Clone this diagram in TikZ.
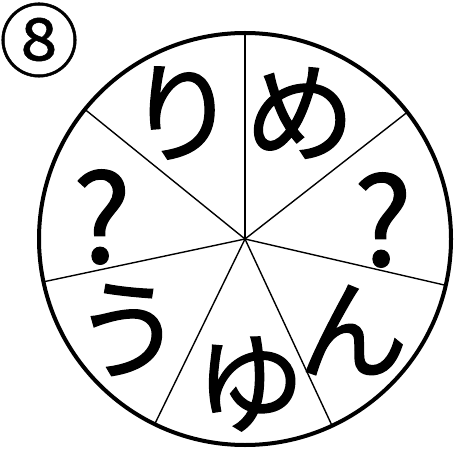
\documentclass[tikz,border=0pt]{standalone}
\usepackage{fontspec}
\newfontfamily\jpfont[FakeBold=1.2]{Noto Sans CJK JP}
\newfontfamily\numfont[FakeBold=0.6]{Noto Sans CJK JP}
\usetikzlibrary{shapes.geometric}

\begin{document}
\begin{tikzpicture}[x=1pt, y=1pt,
    wheel/.style={circle, draw, line width=4pt, outer sep=0pt,
      minimum size=412pt, inner sep=0pt},
    spoke/.style={line width=1.4pt},
    kana/.style={font=\jpfont\fontsize{110}{110}\selectfont, inner sep=0pt},
    quest/.style={font=\jpfont\fontsize{122}{122}\selectfont, inner sep=0pt},
    badge/.style={font=\numfont\fontsize{80}{80}\selectfont, inner sep=0pt}
]
\useasboundingbox (0,0) rectangle (454,450);
\node[wheel] (wheel) at (245,211) {};
\foreach \k [evaluate=\k as \ang using 90+\k*360/7] in {0,...,6}
  \draw[spoke] (wheel.center) -- (wheel.\ang);
\node[badge] (num)  at (39,410)  {⑧};
\node[kana]  (ri)   at (182,337) {り};
\node[kana]  (me)   at (300,337) {め};
\node[quest] (qr)   at (383,230) {?};
\node[kana]  (n)    at (353,120) {ん};
\node[kana]  (yu)   at (250,66)  {ゆ};
\node[kana]  (u)    at (128,120) {う};
\node[quest] (ql)   at (102,233) {?};
\end{tikzpicture}
\end{document}
